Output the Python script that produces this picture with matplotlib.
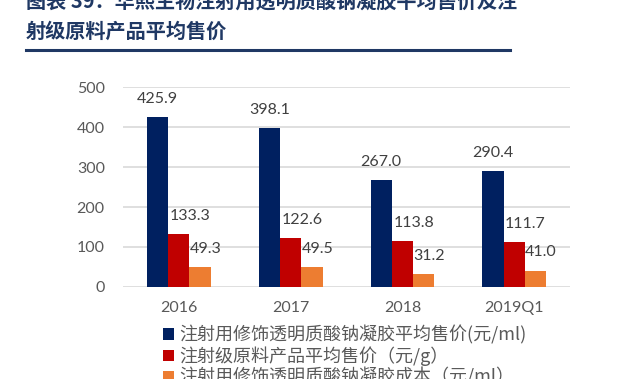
import matplotlib
matplotlib.use("Agg")
import matplotlib.pyplot as plt
import numpy as np

categories = ["2016", "2017", "2018", "2019Q1"]
gel_price = [425.9, 398.1, 267.0, 290.4]
raw_price = [133.3, 122.6, 113.8, 111.7]
gel_cost = [49.3, 49.5, 31.2, 41.0]
series_names = [
    "注射用修饰透明质酸钠凝胶平均售价(元/ml)",
    "注射级原料产品平均售价（元/g）",
    "注射用修饰透明质酸钠凝胶成本（元/ml）",
]
yticks = [0, 100, 200, 300, 400, 500]
title_line1 = "图表 39：华熙生物注射用透明质酸钠凝胶平均售价及注"
title_line2 = "射级原料产品平均售价"

colors = ["#002060", "#C00000", "#ED7D31"]
label_dx = [0, 8, 4]

fig = plt.figure(figsize=(6.4, 3.79), dpi=100)
ax = fig.add_axes([0.192, 0.243, 0.699, 0.527])

x = np.arange(len(categories))
w = 0.19
series = [gel_price, raw_price, gel_cost]
handles = []
for i, (vals, c) in enumerate(zip(series, colors)):
    bars = ax.bar(x + (i - 1) * w, vals, width=w, color=c, zorder=3, label=series_names[i])
    handles.append(bars)
    for b, v in zip(bars, vals):
        ax.annotate(f"{v:.1f}", xy=(b.get_x() + b.get_width() / 2, b.get_height()),
                    xytext=(label_dx[i], 13), textcoords="offset points",
                    ha="center", va="center", fontsize=11.5, color="#404040",
                    family=["Lato", "DejaVu Sans"], zorder=4)

ax.set_xlim(-0.5, len(categories) - 0.5)
ax.set_ylim(0, 500)
ax.set_yticks(yticks)
ax.set_xticks(x)
ax.set_xticklabels(categories)
ax.yaxis.grid(True, color="#D9D9D9", linewidth=1.2, zorder=0)
for s in ax.spines.values():
    s.set_visible(False)
ax.tick_params(axis="both", length=0, labelsize=11.5, labelcolor="#595959")
ax.tick_params(axis="y", pad=13)
ax.tick_params(axis="x", pad=10)
for lab in ax.get_xticklabels() + ax.get_yticklabels():
    lab.set_family(["Lato", "DejaVu Sans"])

leg = fig.legend(handles=handles, labels=series_names, loc="upper left",
                 bbox_to_anchor=(0.255, 0.142), frameon=False,
                 prop={"family": ["Noto Sans CJK SC", "DejaVu Sans"], "size": 13},
                 handlelength=0.6, handleheight=0.6, handletextpad=0.3,
                 labelspacing=0.1, borderpad=0, borderaxespad=0)
for t in leg.get_texts():
    t.set_color("#595959")

title_color = "#1F3864"
fig.text(0.04, 0.998, title_line1, fontsize=14.5, fontweight="bold", color=title_color,
         family=["Noto Sans CJK SC", "DejaVu Sans"], va="center", ha="left")
fig.text(0.04, 0.918, title_line2, fontsize=14.5, fontweight="bold", color=title_color,
         family=["Noto Sans CJK SC", "DejaVu Sans"], va="center", ha="left")
fig.add_artist(plt.Line2D([0.04, 0.797], [0.868, 0.868], color=title_color, linewidth=2.2,
                          transform=fig.transFigure))

fig.savefig("out.png", dpi=100)
